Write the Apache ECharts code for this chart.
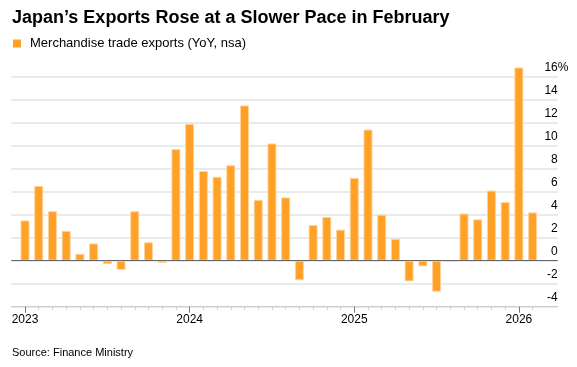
<!DOCTYPE html>
<html>
<head>
<meta charset="utf-8">
<script src="https://cdn.jsdelivr.net/npm/echarts@6/dist/echarts.min.js"></script>
<style>html,body{margin:0;padding:0;background:#fff}#c{width:577px;height:367px}</style>
</head>
<body>
<div id="c"></div>
<script>
// Months Jan 2023 .. Feb 2026
const months = ['2023-01','2023-02','2023-03','2023-04','2023-05','2023-06','2023-07','2023-08','2023-09','2023-10','2023-11','2023-12',
  '2024-01','2024-02','2024-03','2024-04','2024-05','2024-06','2024-07','2024-08','2024-09','2024-10','2024-11','2024-12',
  '2025-01','2025-02','2025-03','2025-04','2025-05','2025-06','2025-07','2025-08','2025-09','2025-10','2025-11','2025-12',
  '2026-01','2026-02'];
const exportsYoY = [3.5, 6.5, 4.3, 2.6, 0.6, 1.5, -0.3, -0.8, 4.3, 1.6, -0.2, 9.7,
  11.9, 7.8, 7.3, 8.3, 13.5, 5.3, 10.2, 5.5, -1.7, 3.1, 3.8, 2.7,
  7.2, 11.4, 4.0, 1.9, -1.8, -0.5, -2.7, -0.1, 4.1, 3.6, 6.1, 5.1,
  16.8, 4.2];
const yearLabels = ['2023','2024','2025','2026'];
const yTicks = [-4, -2, 0, 2, 4, 6, 8, 10, 12, 14, 16];
const seriesName = 'Merchandise trade exports (YoY, nsa)';

const FONT = 'Liberation Sans, Arial, sans-serif';
const yearIdx = yearLabels.map(y => months.indexOf(y + '-01'));
const monthIdx = months.map((m, i) => i);

const chart = echarts.init(document.getElementById('c'), null, {renderer: 'canvas'});
chart.setOption({
  animation: false,
  backgroundColor: '#fff',
  textStyle: {fontFamily: FONT},
  title: [
    {text: 'Japan\u2019s Exports Rose at a Slower Pace in February', left: 12, top: 9, padding: 0,
     textStyle: {fontFamily: FONT, fontSize: 18, fontWeight: 'bold', color: '#000'}},
    {text: 'Source: Finance Ministry', left: 12, top: 347, padding: 0,
     textStyle: {fontFamily: FONT, fontSize: 11, fontWeight: 'normal', color: '#000'}}
  ],
  legend: {
    data: [seriesName], left: 13, top: 37, padding: 0, icon: 'rect', itemWidth: 8, itemHeight: 8,
    itemStyle: {color: '#FFA126', borderWidth: 0},
    textStyle: {fontFamily: FONT, fontSize: 13, color: '#000', padding: [0, 0, 0, 4]}
  },
  grid: {left: 11.3, right: 19.3, top: 76.7, bottom: 60.3, containLabel: false},
  xAxis: [
    {type: 'value', min: -1, max: 38.83, position: 'bottom',
     axisLine: {show: true, onZero: false, lineStyle: {color: '#cccccc', width: 1}},
     axisTick: {show: true, customValues: monthIdx, length: 3, lineStyle: {color: '#cccccc'}},
     axisLabel: {show: false}, splitLine: {show: false}},
    {type: 'value', min: -1, max: 38.83, position: 'bottom',
     axisLine: {show: false, onZero: false},
     axisTick: {show: true, customValues: yearIdx, length: 6, lineStyle: {color: '#777777'}},
     axisLabel: {show: true, customValues: yearIdx, margin: 7,
       formatter: v => yearLabels[yearIdx.indexOf(v)] || '',
       fontFamily: FONT, fontSize: 12, color: '#000'},
     splitLine: {show: false}}
  ],
  yAxis: {
    type: 'value', position: 'right', min: -4, max: 16, interval: 2,
    axisLine: {show: false}, axisTick: {show: false},
    splitLine: {show: true, lineStyle: {color: '#e3e3e3', width: 1.5}},
    axisLabel: {
      inside: true, margin: -10.7, verticalAlign: 'bottom',
      formatter: v => v === yTicks[yTicks.length - 1] ? '{n|' + v + '}{p|%}' : '{n|' + v + '}{h|%}',
      rich: {
        n: {fontFamily: FONT, fontSize: 12, color: '#000', padding: [0, 0, 3, 0]},
        p: {fontFamily: FONT, fontSize: 12, color: '#000', padding: [0, 0, 3, 0]},
        h: {fontFamily: FONT, fontSize: 12, color: 'rgba(0,0,0,0)', padding: [0, 0, 3, 0]}
      }
    }
  },
  series: [{
    name: seriesName, type: 'bar', xAxisIndex: 0, clip: false,
    data: exportsYoY.map((v, i) => [i, v]),
    barWidth: 9,
    itemStyle: {color: '#FFA126', borderColor: '#FFD39B', borderWidth: 1},
    markLine: {
      silent: true, symbol: 'none', label: {show: false},
      lineStyle: {color: '#666666', width: 1, type: 'solid'},
      data: [{yAxis: 0}]
    }
  }]
});
</script>
</body>
</html>
